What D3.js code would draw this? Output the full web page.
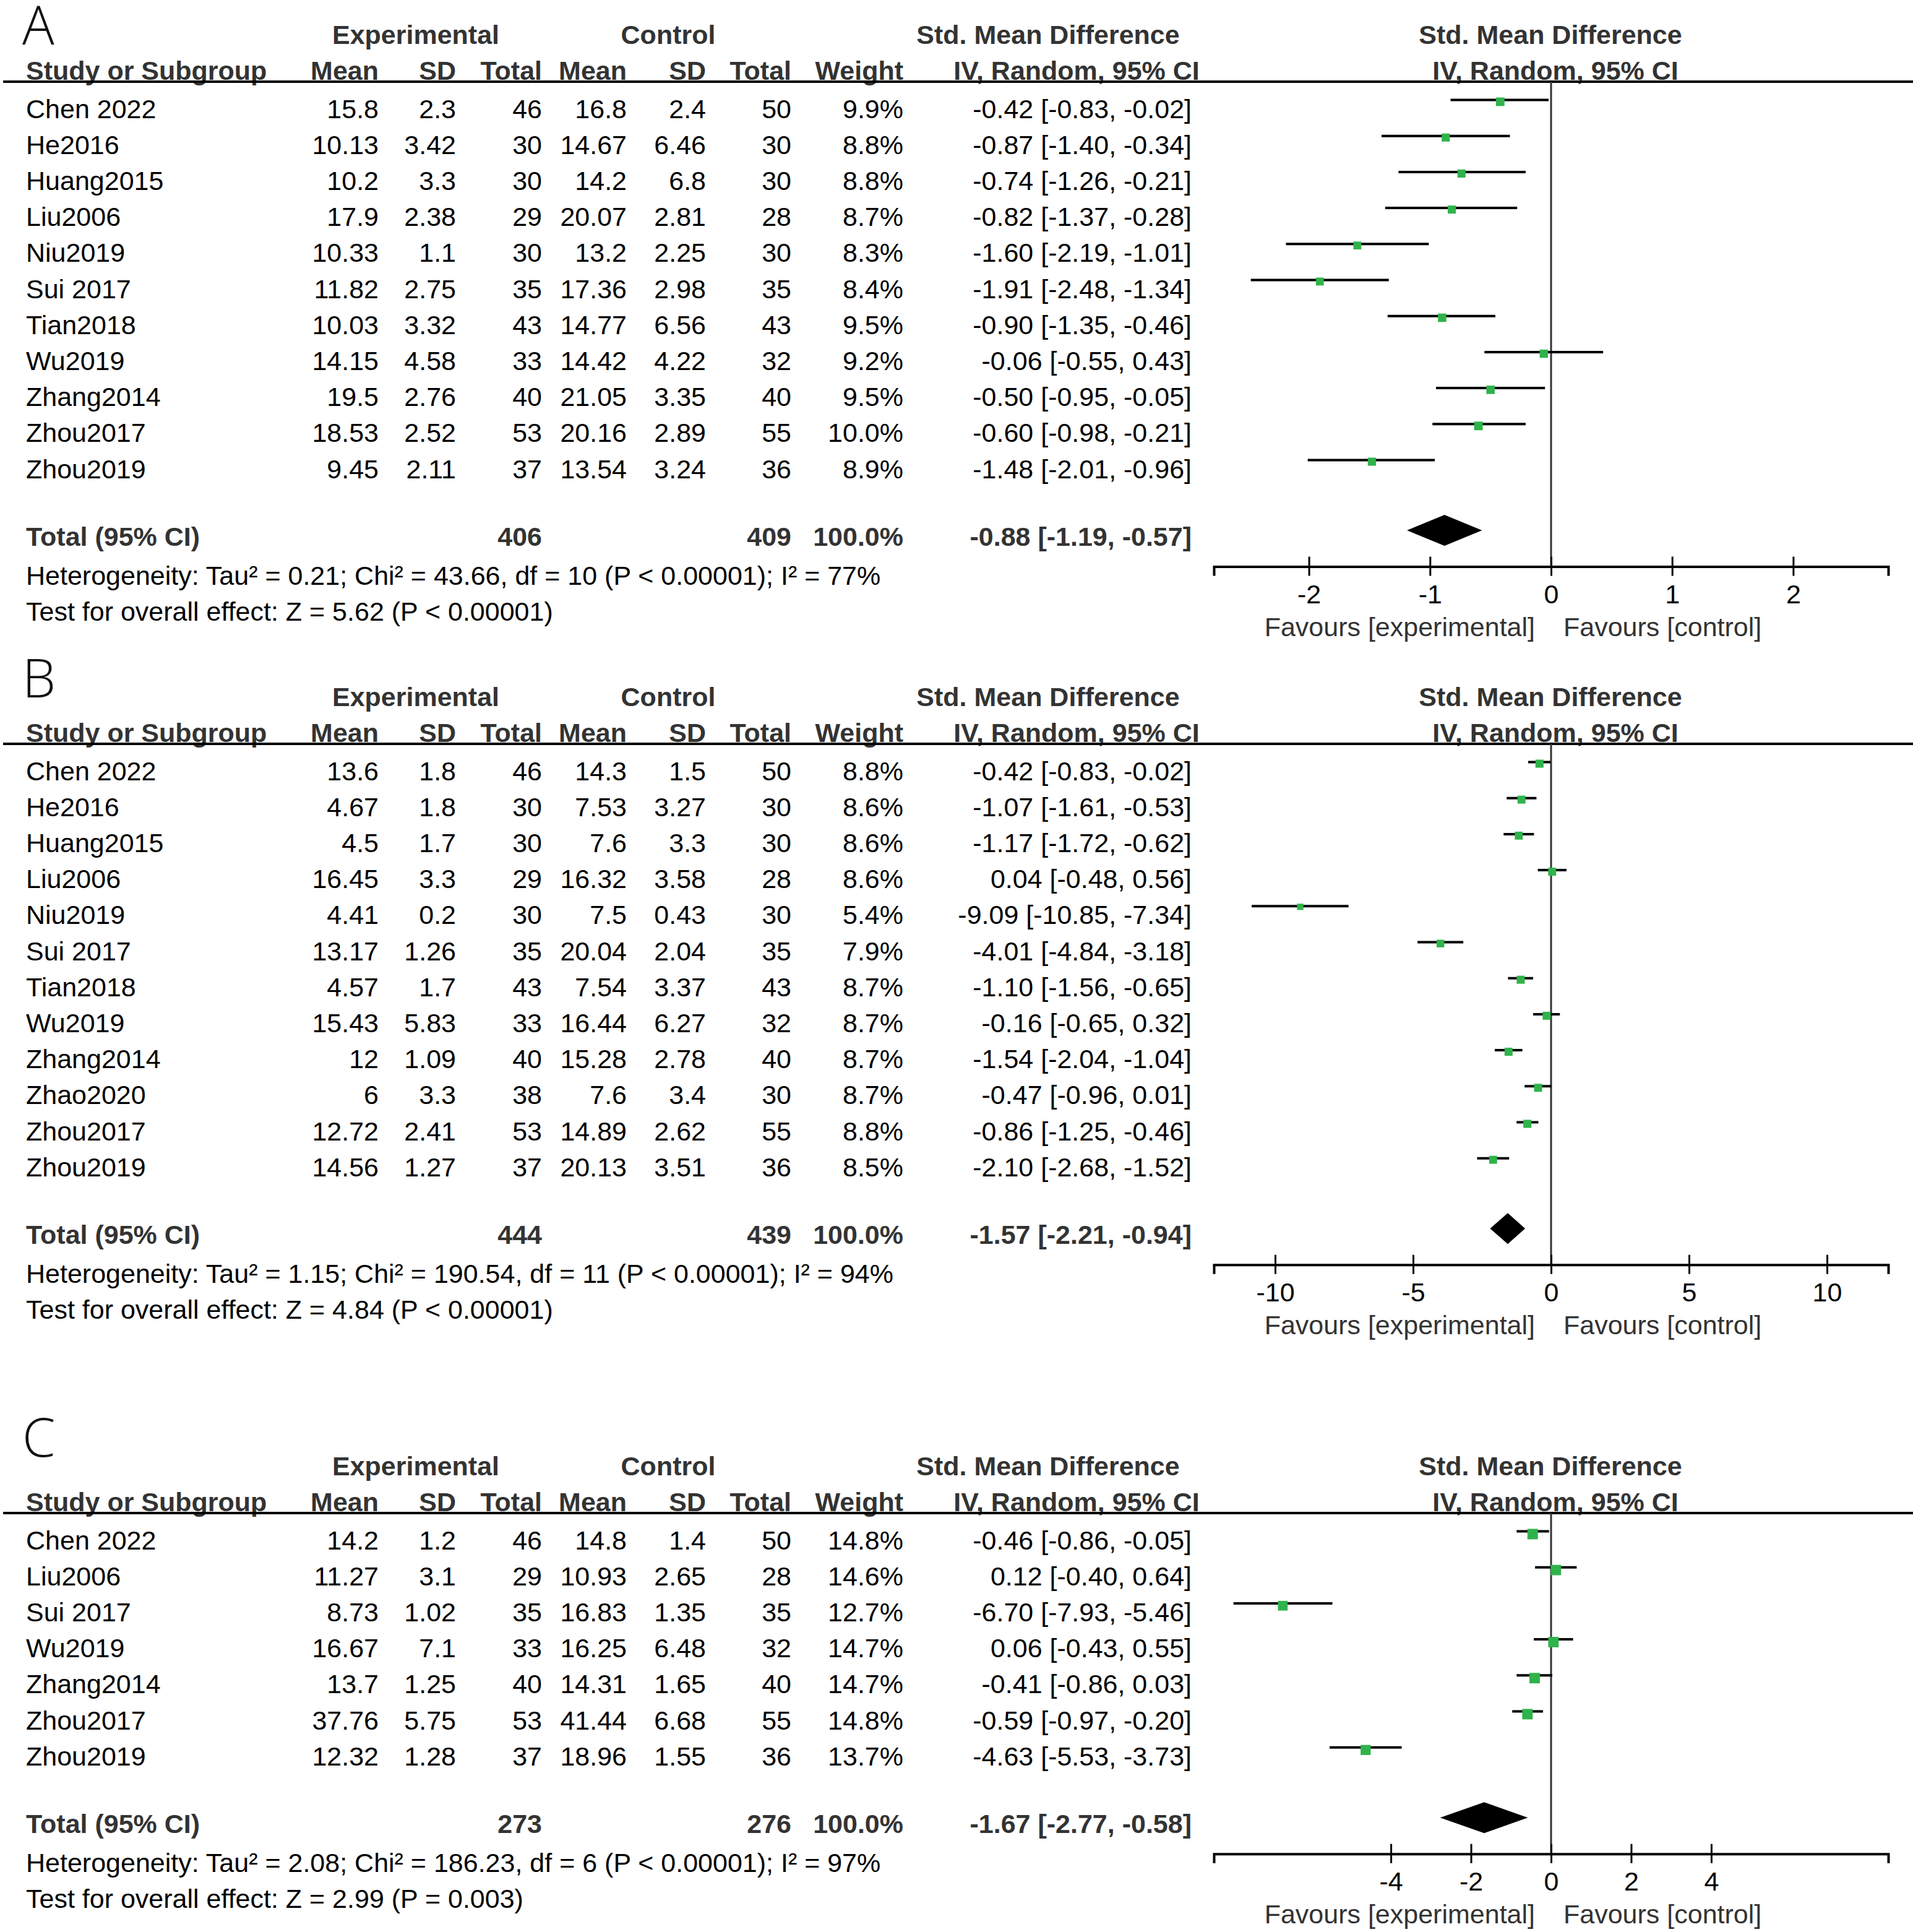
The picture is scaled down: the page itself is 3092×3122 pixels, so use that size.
<!DOCTYPE html>
<html>
<head>
<meta charset="utf-8">
<script src="https://cdn.jsdelivr.net/npm/d3@7"></script>
<style>
  body { margin: 0; background: #fff; overflow: hidden; }
  svg { display: block; }
</style>
</head>
<body>
<script>
// study, exp mean, exp sd, exp n, ctl mean, ctl sd, ctl n, weight %, smd, lo, hi
const rowsA = [
    ["Chen 2022", 15.8, 2.3, 46, 16.8, 2.4, 50, 9.9, -0.42, -0.83, -0.02],
    ["He2016", 10.13, 3.42, 30, 14.67, 6.46, 30, 8.8, -0.87, -1.40, -0.34],
    ["Huang2015", 10.2, 3.3, 30, 14.2, 6.8, 30, 8.8, -0.74, -1.26, -0.21],
    ["Liu2006", 17.9, 2.38, 29, 20.07, 2.81, 28, 8.7, -0.82, -1.37, -0.28],
    ["Niu2019", 10.33, 1.1, 30, 13.2, 2.25, 30, 8.3, -1.60, -2.19, -1.01],
    ["Sui 2017", 11.82, 2.75, 35, 17.36, 2.98, 35, 8.4, -1.91, -2.48, -1.34],
    ["Tian2018", 10.03, 3.32, 43, 14.77, 6.56, 43, 9.5, -0.90, -1.35, -0.46],
    ["Wu2019", 14.15, 4.58, 33, 14.42, 4.22, 32, 9.2, -0.06, -0.55, 0.43],
    ["Zhang2014", 19.5, 2.76, 40, 21.05, 3.35, 40, 9.5, -0.50, -0.95, -0.05],
    ["Zhou2017", 18.53, 2.52, 53, 20.16, 2.89, 55, 10.0, -0.60, -0.98, -0.21],
    ["Zhou2019", 9.45, 2.11, 37, 13.54, 3.24, 36, 8.9, -1.48, -2.01, -0.96]
];
const totalA = [406, 409, 100.0, -0.88, -1.19, -0.57];
const hetA = "Heterogeneity: Tau² = 0.21; Chi² = 43.66, df = 10 (P < 0.00001); I² = 77%";
const testA = "Test for overall effect: Z = 5.62 (P < 0.00001)";
const ticksA = [-2, -1, 0, 1, 2];

const rowsB = [
    ["Chen 2022", 13.6, 1.8, 46, 14.3, 1.5, 50, 8.8, -0.42, -0.83, -0.02],
    ["He2016", 4.67, 1.8, 30, 7.53, 3.27, 30, 8.6, -1.07, -1.61, -0.53],
    ["Huang2015", 4.5, 1.7, 30, 7.6, 3.3, 30, 8.6, -1.17, -1.72, -0.62],
    ["Liu2006", 16.45, 3.3, 29, 16.32, 3.58, 28, 8.6, 0.04, -0.48, 0.56],
    ["Niu2019", 4.41, 0.2, 30, 7.5, 0.43, 30, 5.4, -9.09, -10.85, -7.34],
    ["Sui 2017", 13.17, 1.26, 35, 20.04, 2.04, 35, 7.9, -4.01, -4.84, -3.18],
    ["Tian2018", 4.57, 1.7, 43, 7.54, 3.37, 43, 8.7, -1.10, -1.56, -0.65],
    ["Wu2019", 15.43, 5.83, 33, 16.44, 6.27, 32, 8.7, -0.16, -0.65, 0.32],
    ["Zhang2014", 12, 1.09, 40, 15.28, 2.78, 40, 8.7, -1.54, -2.04, -1.04],
    ["Zhao2020", 6, 3.3, 38, 7.6, 3.4, 30, 8.7, -0.47, -0.96, 0.01],
    ["Zhou2017", 12.72, 2.41, 53, 14.89, 2.62, 55, 8.8, -0.86, -1.25, -0.46],
    ["Zhou2019", 14.56, 1.27, 37, 20.13, 3.51, 36, 8.5, -2.10, -2.68, -1.52]
];
const totalB = [444, 439, 100.0, -1.57, -2.21, -0.94];
const hetB = "Heterogeneity: Tau² = 1.15; Chi² = 190.54, df = 11 (P < 0.00001); I² = 94%";
const testB = "Test for overall effect: Z = 4.84 (P < 0.00001)";
const ticksB = [-10, -5, 0, 5, 10];

const rowsC = [
    ["Chen 2022", 14.2, 1.2, 46, 14.8, 1.4, 50, 14.8, -0.46, -0.86, -0.05],
    ["Liu2006", 11.27, 3.1, 29, 10.93, 2.65, 28, 14.6, 0.12, -0.40, 0.64],
    ["Sui 2017", 8.73, 1.02, 35, 16.83, 1.35, 35, 12.7, -6.70, -7.93, -5.46],
    ["Wu2019", 16.67, 7.1, 33, 16.25, 6.48, 32, 14.7, 0.06, -0.43, 0.55],
    ["Zhang2014", 13.7, 1.25, 40, 14.31, 1.65, 40, 14.7, -0.41, -0.86, 0.03],
    ["Zhou2017", 37.76, 5.75, 53, 41.44, 6.68, 55, 14.8, -0.59, -0.97, -0.20],
    ["Zhou2019", 12.32, 1.28, 37, 18.96, 1.55, 36, 13.7, -4.63, -5.53, -3.73]
];
const totalC = [273, 276, 100.0, -1.67, -2.77, -0.58];
const hetC = "Heterogeneity: Tau² = 2.08; Chi² = 186.23, df = 6 (P < 0.00001); I² = 97%";
const testC = "Test for overall effect: Z = 2.99 (P = 0.003)";
const ticksC = [-4, -2, 0, 2, 4];

const colHeads = ["Mean", "SD", "Total", "Mean", "SD", "Total", "Weight"];

const panels = [
    { label: "A", rows: rowsA, total: totalA, het: hetA, test: testA, ticks: ticksA, extent: 2.785, top: 0, letterY: 72 },
    { label: "B", rows: rowsB, total: totalB, het: hetB, test: testB, ticks: ticksB, extent: 12.22, top: 1070, letterY: 1127 },
    { label: "C", rows: rowsC, total: totalC, het: hetC, test: testC, ticks: ticksC, extent: 8.42, top: 2313, letterY: 2354 }
];

const W = 3092, H = 3122;
const FONT = "'Liberation Sans', Arial, Helvetica, sans-serif";
const FS = 43;
const colX = [612, 737, 876, 1013, 1141, 1279, 1460, 1926];
const rowH = 58.2;
const green = "#30b34b";

const svg = d3.select("body").append("svg")
    .attr("width", W)
    .attr("height", H)
    .style("background", "#fff");

function txt(g, x, y, s, anchor, bold, fill) {
    return g.append("text")
        .attr("x", x)
        .attr("y", y)
        .attr("text-anchor", anchor || "start")
        .attr("font-family", FONT)
        .attr("font-size", FS)
        .attr("font-weight", bold ? "bold" : "normal")
        .attr("fill", fill || "#000")
        .text(s);
}

const fmt2 = v => v.toFixed(2);
const ciText = (e, lo, hi) => `${fmt2(e)} [${fmt2(lo)}, ${fmt2(hi)}]`;

panels.forEach(p => {
    const x = d3.scaleLinear()
        .domain([-p.extent, p.extent])
        .range([1962, 3052]);
    const x0 = x(0);

    svg.append("text")
        .attr("x", 36)
        .attr("y", p.letterY)
        .attr("font-family", "'Open Sans', 'DejaVu Sans', sans-serif")
        .attr("font-weight", 300)
        .attr("font-size", 86)
        .attr("fill", "#111")
        .text(p.label);

    const g = svg.append("g").attr("transform", `translate(0,${p.top})`);

    // headers
    txt(g, 672, 71, "Experimental", "middle", true, "#333");
    txt(g, 1080, 71, "Control", "middle", true, "#333");
    txt(g, 1694, 71, "Std. Mean Difference", "middle", true, "#333");
    txt(g, x0 - 1, 71, "Std. Mean Difference", "middle", true, "#333");
    txt(g, 42, 129, "Study or Subgroup", "start", true, "#333");
    colHeads.forEach((h, i) => txt(g, colX[i], 129, h, "end", true, "#333"));
    txt(g, 1740, 129, "IV, Random, 95% CI", "middle", true, "#333");
    txt(g, x0 + 7, 129, "IV, Random, 95% CI", "middle", true, "#333");

    g.append("line")
        .attr("x1", 5).attr("x2", W)
        .attr("y1", 132).attr("y2", 132)
        .attr("stroke", "#000")
        .attr("stroke-width", 4);

    const n = p.rows.length;
    const yTotal = 190.5 + rowH * (n - 1) + 109;
    const axisY = yTotal + 34;

    g.append("line")
        .attr("x1", x0).attr("x2", x0)
        .attr("y1", 132).attr("y2", axisY)
        .attr("stroke", "#333")
        .attr("stroke-width", 3);

    p.rows.forEach((r, i) => {
        const yb = 190.5 + rowH * i;
        txt(g, 42, yb, r[0]);
        for (let k = 1; k <= 6; k++) txt(g, colX[k - 1], yb, String(r[k]), "end");
        txt(g, colX[6], yb, r[7].toFixed(1) + "%", "end");
        txt(g, colX[7], yb, ciText(r[8], r[9], r[10]), "end");

        const ly = yb - 29;
        g.append("line")
            .attr("x1", x(r[9])).attr("x2", x(r[10]))
            .attr("y1", ly).attr("y2", ly)
            .attr("stroke", "#000")
            .attr("stroke-width", 4);
        const s = 4.4 * Math.sqrt(r[7]);
        g.append("rect")
            .attr("x", x(r[8]) - s / 2)
            .attr("y", ly - 4)
            .attr("width", s)
            .attr("height", s)
            .attr("fill", green);
    });

    // total row
    const t = p.total;
    txt(g, 42, yTotal, "Total (95% CI)", "start", true, "#333");
    txt(g, colX[2], yTotal, String(t[0]), "end", true, "#333");
    txt(g, colX[5], yTotal, String(t[1]), "end", true, "#333");
    txt(g, colX[6], yTotal, t[2].toFixed(1) + "%", "end", true, "#333");
    txt(g, colX[7], yTotal, ciText(t[3], t[4], t[5]), "end", true, "#333");

    const dy = yTotal - 24.5;
    g.append("polygon")
        .attr("points", [
            [x(t[4]), dy], [x(t[3]), dy - 25], [x(t[5]), dy], [x(t[3]), dy + 25]
        ].map(d => d.join(",")).join(" "))
        .attr("fill", "#000");

    txt(g, 42, yTotal + 63.5, p.het);
    txt(g, 42, yTotal + 121.5, p.test);

    const ax = g.append("g")
        .attr("transform", `translate(0,${axisY})`)
        .call(d3.axisBottom(x)
            .tickValues(p.ticks)
            .tickFormat(d => String(d))
            .tickSizeOuter(0)
            .tickSize(15));
    ax.select(".domain")
        .attr("stroke", "#000")
        .attr("stroke-width", 4);
    ax.selectAll(".tick line")
        .attr("y1", -16)
        .attr("y2", 15)
        .attr("stroke", "#000")
        .attr("stroke-width", 3);
    ax.selectAll(".tick text")
        .attr("y", 59)
        .attr("dy", 0)
        .attr("font-family", FONT)
        .attr("font-size", FS)
        .attr("fill", "#000");

    txt(g, x0 - 26, axisY + 112, "Favours [experimental]", "end", false, "#333");
    txt(g, x0 + 20, axisY + 112, "Favours [control]", "start", false, "#333");
});
</script>
</body>
</html>
